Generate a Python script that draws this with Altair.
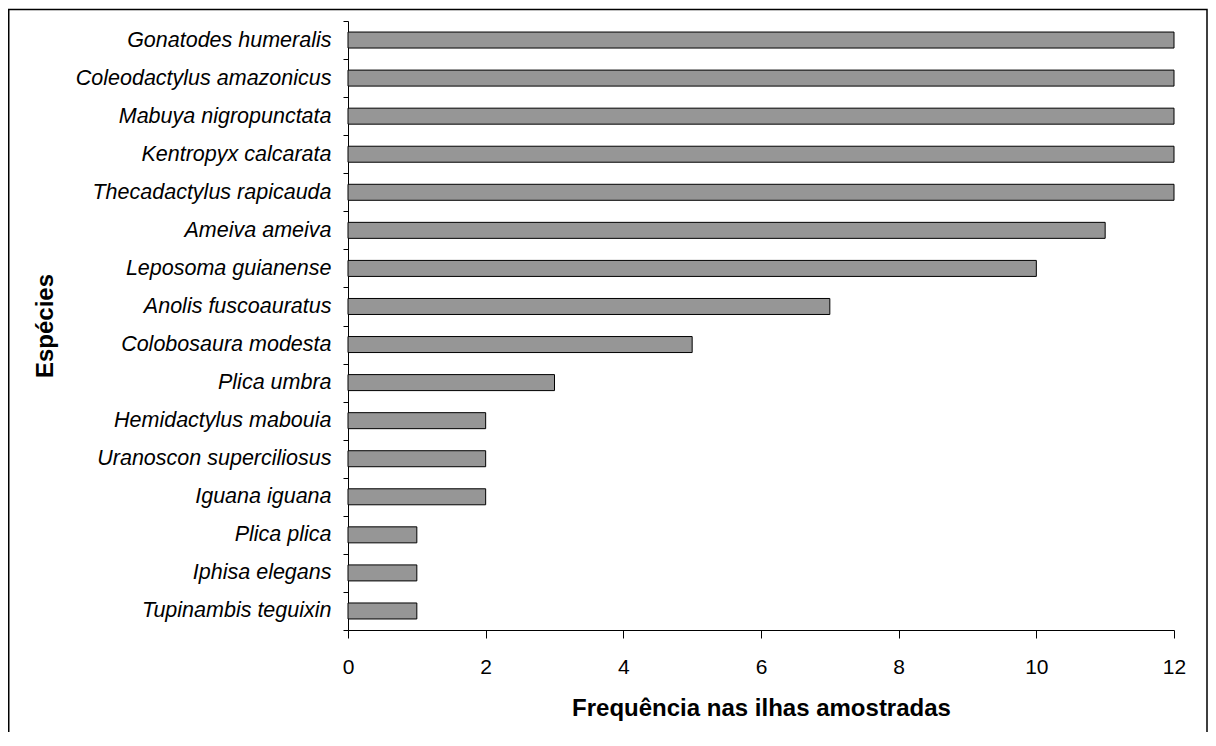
import altair as alt
import pandas as pd

species = [
    "Gonatodes humeralis",
    "Coleodactylus amazonicus",
    "Mabuya nigropunctata",
    "Kentropyx calcarata",
    "Thecadactylus rapicauda",
    "Ameiva ameiva",
    "Leposoma guianense",
    "Anolis fuscoauratus",
    "Colobosaura modesta",
    "Plica umbra",
    "Hemidactylus mabouia",
    "Uranoscon superciliosus",
    "Iguana iguana",
    "Plica plica",
    "Iphisa elegans",
    "Tupinambis teguixin",
]
frequency = [12, 12, 12, 12, 12, 11, 10, 7, 5, 3, 2, 2, 2, 1, 1, 1]
x_ticks = [0, 2, 4, 6, 8, 10, 12]

df = pd.DataFrame({"species": species, "freq": frequency})

FONT = "Liberation Sans"

bars = alt.Chart(df).mark_bar(
    size=16, color="#969696", stroke="black", strokeWidth=1
).encode(
    x=alt.X(
        "freq:Q",
        scale=alt.Scale(domain=[0, 12], nice=False, zero=True),
        axis=alt.Axis(
            values=x_ticks,
            title="Frequência nas ilhas amostradas",
            grid=False,
            domainColor="black",
            tickColor="black",
            tickSize=8,
            labelFontSize=21,
            labelPadding=18,
            labelFlush=False,
            labelColor="black",
            labelFont=FONT,
            titleFont=FONT,
            titleFontSize=24,
            titleFontWeight="bold",
            titleColor="black",
            titleBaseline="alphabetic",
            titleY=85,
        ),
    ),
    y=alt.Y(
        "species:N",
        sort=species,
        scale=alt.Scale(paddingInner=0, paddingOuter=0),
        axis=alt.Axis(
            title="Espécies",
            tickBand="extent",
            grid=False,
            domainColor="black",
            tickColor="black",
            tickSize=5,
            labelFontSize=21.5,
            labelFontStyle="italic",
            labelPadding=12,
            labelColor="black",
            labelFont=FONT,
            labelLimit=400,
            titleFont=FONT,
            titleFontSize=24,
            titleFontWeight="bold",
            titleColor="black",
            titleAngle=-90,
            titleBaseline="alphabetic",
            titleX=-296,
        ),
    ),
)

border_df = pd.DataFrame({"k": [0]})
border = alt.Chart(border_df).mark_rect(
    filled=False, stroke="black", strokeWidth=1.5
).encode(
    x=alt.value(-339.25),
    x2=alt.value(859),
    y=alt.value(-11.5),
    y2=alt.value(800),
)

chart = alt.layer(bars, border).properties(
    width=826,
    height=609,
    autosize=alt.AutoSizeParams(type="none"),
    padding={"left": 340, "top": 13, "right": 34, "bottom": 102},
    background="white",
).configure_view(strokeWidth=0)

chart.save("out.html", embed_options={"renderer": "svg", "actions": False})
